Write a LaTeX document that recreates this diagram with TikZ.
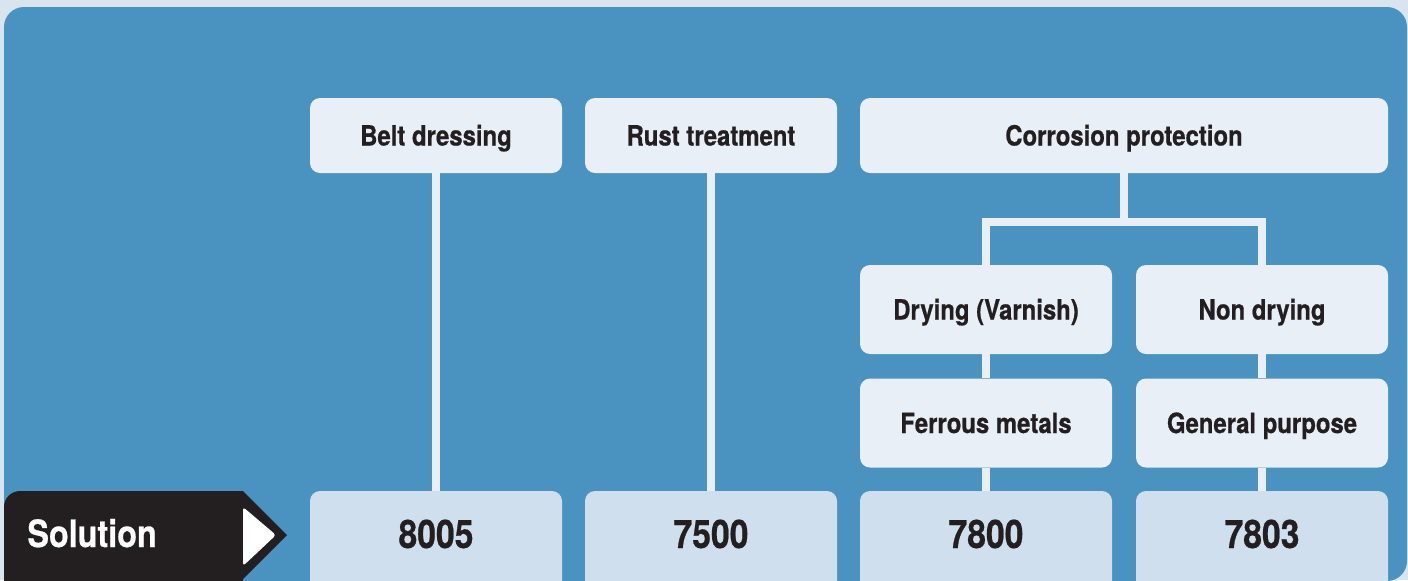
\documentclass[tikz,border=0pt]{standalone}
\usepackage{fontspec}
\setmainfont{TeX Gyre Heros}[FakeStretch=0.86, BoldFeatures={FakeBold=0.6}]
\usepackage{xcolor}
\usepackage{tikz}
\usetikzlibrary{positioning,calc}
\definecolor{pagebg}{RGB}{216,229,240}
\definecolor{panel}{RGB}{74,146,191}
\definecolor{boxlight}{RGB}{232,239,246}
\definecolor{boxcode}{RGB}{207,223,238}
\definecolor{ink}{RGB}{35,31,32}

\begin{document}
\begin{tikzpicture}[x=0.5pt, y=-0.5pt,
  cat/.style={fill=boxlight, rounded corners=5pt, align=center, inner sep=0pt,
    minimum width=126pt, minimum height=37.5pt, text=ink, text height=10pt, text depth=0pt,
    font=\bfseries\fontsize{13.9}{16}\selectfont},
  sub/.style={cat, minimum height=44.5pt},
  code/.style={fill=boxcode, rounded corners=5pt, inner sep=0pt, minimum width=126pt,
    text height=28.5pt, text depth=26pt, text=ink, anchor=base,
    font=\bfseries\fontsize{19.6}{22}\selectfont},
  link/.style={draw=boxlight, line width=4pt}
]

\clip (0,0) rectangle (1408,580);
\fill[pagebg] (0,0) rectangle (1408,580);
\fill[panel, rounded corners=10pt] (4,7) rectangle (1407,581);

% Product categories.
\node[cat] (belt) at (436,135.5) {Belt dressing};
\node[cat] (rust) at (711,135.5) {Rust treatment};
\node[cat, minimum width=264pt] (corr) at (1124,135.5) {Corrosion protection};

\node[sub] (dry) at (986,309.5) {Drying (Varnish)};
\node[sub] (nondry) at (1262,309.5) {Non drying};
\node[sub] (ferrous) at (986,423) {Ferrous metals};
\node[sub] (general) at (1262,423) {General purpose};

% Solution row.
\node[code] (c8005) at (436,548) {8005};
\node[code] (c7500) at (711,548) {7500};
\node[code] (c7800) at (986,548) {7800};
\node[code] (c7803) at (1262,548) {7803};

\fill[ink] (4,620) [rounded corners=8pt] -- (4,491) [sharp corners] -- (243,491)
  -- (287,535) -- (243,579) -- (243,620) -- cycle;
\fill[white, rounded corners=1.5pt] (243,507) -- (276,535) -- (243,566) -- cycle;
\node[anchor=base west, inner sep=0pt, text=white,
  font=\bfseries\fontsize{18.8}{22}\selectfont] (sol) at (27,547) {Solution};

% Connectors.
\coordinate (split) at (1124,222);
\draw[link] (belt) -- (c8005);
\draw[link] (rust) -- (c7500);
\draw[link] (corr) -- (split);
\draw[link] (dry) |- (split) -| (nondry);
\draw[link] (dry) -- (ferrous);
\draw[link] (ferrous) -- (c7800);
\draw[link] (nondry) -- (general);
\draw[link] (general) -- (c7803);

\end{tikzpicture}
\end{document}
